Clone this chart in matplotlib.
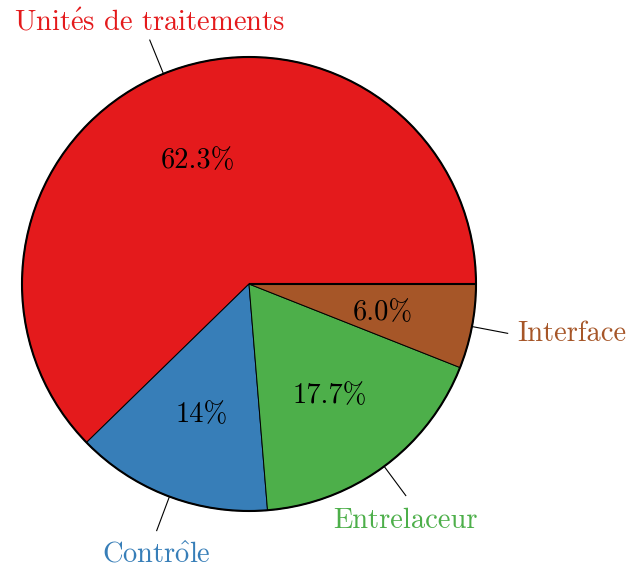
import numpy as np
import matplotlib.pyplot as plt
from matplotlib.patches import Circle

plt.rcParams['font.family'] = ['cmr10', 'DejaVu Serif']
plt.rcParams['mathtext.fontset'] = 'cm'

# accented letters built with mathtext, cmr10 has no é / ô glyphs
categories = [r'Unit$\acute{\mathrm{e}}$s de traitements', r'Contr$\hat{\mathrm{o}}$le',
              'Entrelaceur', 'Interface']
values = [62.3, 14, 17.7, 6.0]
pct_labels = ['62.3%', '14%', '17.7%', '6.0%']
colors = ['#e41a1c', '#377eb8', '#4daf4a', '#a65628']

W, H = 629, 570
R = 227.0          # pie radius in pixels
cx, cy = 249, 284  # centre, pixels from top-left

fig = plt.figure(figsize=(W / 100, H / 100), dpi=100)
ax = fig.add_axes([0, 0, 1, 1])

wedges, _ = ax.pie(values, colors=colors, startangle=0, counterclock=True,
                   radius=1.0, wedgeprops=dict(edgecolor='black', linewidth=0.7))
ax.set_xlim(-cx / R, (W - cx) / R)
ax.set_ylim(-(H - cy) / R, cy / R)
ax.set_aspect('equal')
ax.axis('off')

# thick outer rim and starting radius
ax.add_patch(Circle((0, 0), 1.0, fill=False, edgecolor='black', linewidth=1.5, zorder=5))
ax.plot([0, 1], [0, 0], color='black', linewidth=1.5, zorder=5, solid_capstyle='butt')

fs = 20.5
for w, lab, pct, col in zip(wedges, categories, pct_labels, colors):
    mid = np.deg2rad((w.theta1 + w.theta2) / 2)
    c, s = np.cos(mid), np.sin(mid)
    ax.annotate(pct, (0.6 * c, 0.6 * s), xytext=(0, -3), textcoords='offset pixels',
                ha='center', va='center', fontsize=fs, color='black', zorder=6)
    ax.plot([c, 1.16 * c], [s, 1.16 * s], color='black', linewidth=0.8, zorder=6)
    ex, ey = 1.16 * c, 1.16 * s
    if s > 0.7:
        ax.annotate(lab, (ex, ey), xytext=(0, 10), textcoords='offset pixels',
                    ha='center', va='baseline', fontsize=fs, color=col)
    elif s < -0.7:
        ax.annotate(lab, (ex, ey), xytext=(0, -32), textcoords='offset pixels',
                    ha='center', va='baseline', fontsize=fs, color=col)
    elif c > 0:
        ax.annotate(lab, (ex, ey), xytext=(10, -8), textcoords='offset pixels',
                    ha='left', va='baseline', fontsize=fs, color=col)
    else:
        ax.annotate(lab, (ex, ey), xytext=(-10, -8), textcoords='offset pixels',
                    ha='right', va='baseline', fontsize=fs, color=col)

fig.savefig('out.png', dpi=100)
